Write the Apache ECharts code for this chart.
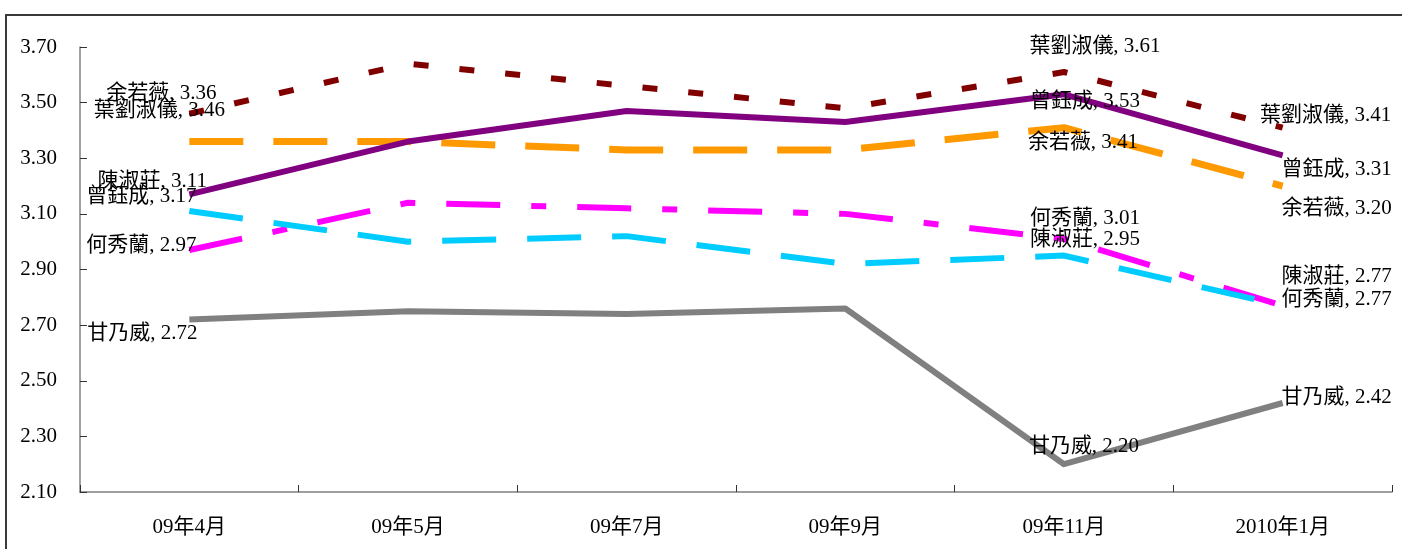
<!DOCTYPE html>
<html>
<head>
<meta charset="utf-8">
<script src="https://cdn.jsdelivr.net/npm/echarts@6/dist/echarts.min.js"></script>
<style>
  html, body { margin: 0; padding: 0; background: #fff; }
  #chart { width: 1402px; height: 549px; }
</style>
</head>
<body>
<div id="chart"></div>
<script>
// ---- data ----
const categories = ['09年4月', '09年5月', '09年7月', '09年9月', '09年11月', '2010年1月'];
const yTicks = [2.10, 2.30, 2.50, 2.70, 2.90, 3.10, 3.30, 3.50, 3.70];

const seriesNames = ['余若薇', '曾鈺成', '葉劉淑儀', '何秀蘭', '陳淑莊', '甘乃威'];
const yuYeukMei   = [3.36, 3.36, 3.33, 3.33, 3.41, 3.20];
const tsangYokSing = [3.17, 3.36, 3.47, 3.43, 3.53, 3.31];
const ipLauSukYee = [3.46, 3.64, 3.56, 3.48, 3.61, 3.41];
const hoSauLan    = [2.97, 3.14, 3.12, 3.10, 3.01, 2.77];
const chanShuKChong = [3.11, 3.00, 3.02, 2.92, 2.95, 2.77];
const kamNaiWai   = [2.72, 2.75, 2.74, 2.76, 2.20, 2.42];
const labelledIdx = [0, 4, 5];

// ---- styles ----
const FONT = "'Liberation Serif', 'Noto Sans CJK TC', serif";
const styles = {
  '余若薇':   { color: '#FF9900', width: 7, dash: [54, 30] },
  '曾鈺成':   { color: '#800080', width: 6, dash: 'solid' },
  '葉劉淑儀': { color: '#800000', width: 6, dash: [15, 31] },
  '何秀蘭':   { color: '#FF00FF', width: 6, dash: [54, 31, 15, 31] },
  '陳淑莊':   { color: '#00CCFF', width: 6, dash: [54, 31] },
  '甘乃威':   { color: '#808080', width: 6, dash: 'solid' }
};
// label offsets (px) relative to the data point, for indices 0, 4, 5
const labelOffsets = {
  '余若薇':   [[-28, -48], [19, 15], [54, 22]],
  '曾鈺成':   [[-48, 2], [21, 7], [54, 14]],
  '葉劉淑儀': [[-30, -3], [31, -26], [43, -12]],
  '何秀蘭':   [[-48, -5], [21, -20], [54, -6]],
  '陳淑莊':   [[-37, -30], [21, -16], [54, -29]],
  '甘乃威':   [[-47, 14], [20, -18], [54, -6]]
};
const valuesByName = {
  '余若薇': yuYeukMei, '曾鈺成': tsangYokSing, '葉劉淑儀': ipLauSukYee,
  '何秀蘭': hoSauLan, '陳淑莊': chanShuKChong, '甘乃威': kamNaiWai
};

function buildSeries(name) {
  const st = styles[name];
  const vals = valuesByName[name];
  const data = vals.map((v, i) => {
    const k = labelledIdx.indexOf(i);
    if (k < 0) return { value: v };
    return {
      value: v,
      label: {
        show: true,
        position: 'inside',
        offset: labelOffsets[name][k],
        align: 'center',
        verticalAlign: 'middle',
        color: '#000',
        fontFamily: FONT,
        fontSize: 21,
        formatter: name + ', ' + v.toFixed(2)
      }
    };
  });
  return {
    name: name,
    type: 'line',
    data: data,
    symbol: 'circle',
    symbolSize: 2,
    showSymbol: true,
    itemStyle: { color: 'rgba(0,0,0,0)' },
    lineStyle: { color: st.color, width: st.width, type: st.dash, cap: 'butt', join: 'round' },
    emphasis: { disabled: true },
    silent: true
  };
}

const chart = echarts.init(document.getElementById('chart'), null, { renderer: 'canvas' });
chart.setOption({
  animation: false,
  backgroundColor: '#fff',
  grid: { left: 80, right: 10, top: 47, bottom: 57, containLabel: false },
  graphic: [{
    type: 'rect',
    shape: { x: 6, y: 15, width: 1420, height: 600 },
    style: { fill: 'none', stroke: '#3a3a3a', lineWidth: 2 },
    silent: true
  }],
  xAxis: {
    type: 'category',
    data: categories,
    boundaryGap: true,
    axisLine: { lineStyle: { color: '#808080', width: 1.5 } },
    axisTick: { show: true, inside: true, length: 7, lineStyle: { color: '#333' } },
    axisLabel: { color: '#000', fontFamily: FONT, fontSize: 21, margin: 25 },
    splitLine: { show: false }
  },
  yAxis: {
    type: 'value',
    min: yTicks[0],
    max: yTicks[yTicks.length - 1],
    interval: 0.2,
    axisLine: { show: true, lineStyle: { color: '#808080', width: 1.5 } },
    axisTick: { show: true, inside: true, length: 7, lineStyle: { color: '#333' } },
    axisLabel: { color: '#000', fontFamily: FONT, fontSize: 21, margin: 23,
                 formatter: v => Number(v).toFixed(2) },
    splitLine: { show: false }
  },
  series: seriesNames.map(buildSeries)
});
</script>
</body>
</html>
